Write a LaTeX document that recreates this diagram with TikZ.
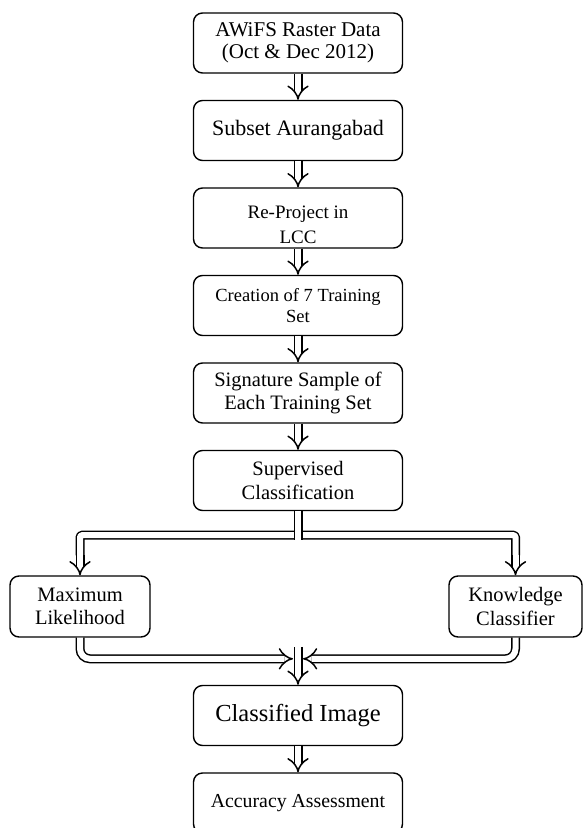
\documentclass[tikz,border=0pt]{standalone}
\usepackage{fontspec}
\setmainfont{Liberation Serif}
\usetikzlibrary{arrows.meta,positioning}

\begin{document}
\begin{tikzpicture}[x=1pt,y=-1pt,node distance=87.5pt,semithick,
    box/.style={draw,line width=1.4pt,rounded corners=9pt,minimum width=209pt,minimum height=60pt,
                inner sep=0pt,align=center,font=\fontsize{20.5}{23.5}\selectfont},
    dbl/.style={double distance=6pt,line width=1.5pt,double=white},
    arr/.style={dbl,-{Implies[scale=1.25]}}]
  \useasboundingbox (0,0) rectangle (583,828);

  \node[box,font=\fontsize{21}{22}\selectfont] (awifs) at (298,43) {AWiFS Raster Data\\(Oct \& Dec 2012)};
  \node[box,font=\fontsize{22}{24}\selectfont] (subset) [below of=awifs] {Subset Aurangabad};
  \node[box,font=\fontsize{19}{25}\selectfont,text height=51pt,text depth=0pt] (reproj) [below of=subset] {Re-Project in\\LCC};
  \node[box,font=\fontsize{18.5}{21}\selectfont] (train) [below of=reproj] {Creation of 7 Training\\Set};
  \node[box] (sign) [below of=train] {Signature Sample of\\Each Training Set};
  \node[box] (sup) [below of=sign] {Supervised\\Classification};
  \node[box,minimum width=140pt,minimum height=61pt] (ml) [node distance=126pt,below of=sup,xshift=-218pt] {Maximum\\Likelihood};
  \node[box,minimum width=133pt,minimum height=61pt] (kc) [node distance=126pt,below of=sup,xshift=217.5pt] {Knowledge\\Classifier};
  \node[box,font=\fontsize{24.5}{26}\selectfont] (cls) [node distance=235pt,below of=sup] {Classified Image};
  \node[box,font=\fontsize{19.8}{22}\selectfont] (acc) [below of=cls] {Accuracy Assessment};

  % split and merge points
  \coordinate[below=24pt of sup] (split);
  \coordinate[below=29pt of sup] (splitbot);
  \coordinate (kneeL) at (ml.north |- split);
  \coordinate (kneeR) at (kc.north |- split);
  \coordinate[above=20pt of ml] (stubL);
  \coordinate[above=20pt of kc] (stubR);
  \coordinate[above=38pt of cls] (mergetop);
  \coordinate[above left=26pt and 5pt of cls.north] (mergeL);
  \coordinate[above right=26pt and 5pt of cls.north] (mergeR);

  \path
  (awifs) edge[arr] (subset)
  (subset) edge[arr] (reproj)
  (reproj) edge[arr] (train)
  (train) edge[arr] (sign)
  (sign) edge[arr] (sup)
  (cls) edge[arr] (acc);

  \draw[dbl,line join=round,rounded corners=1.5pt] (stubL) -- (kneeL) -- (kneeR) -- (stubR);
  \draw[arr] (stubL) -- (ml.north);
  \draw[arr] (stubR) -- (kc.north);
  \draw[dbl] (sup.south) -- (splitbot);
  \draw[arr,rounded corners=10pt] (ml.south) |- (mergeL);
  \draw[arr,rounded corners=10pt] (kc.south) |- (mergeR);
  \draw[arr] (mergetop) -- (cls.north);
\end{tikzpicture}
\end{document}
